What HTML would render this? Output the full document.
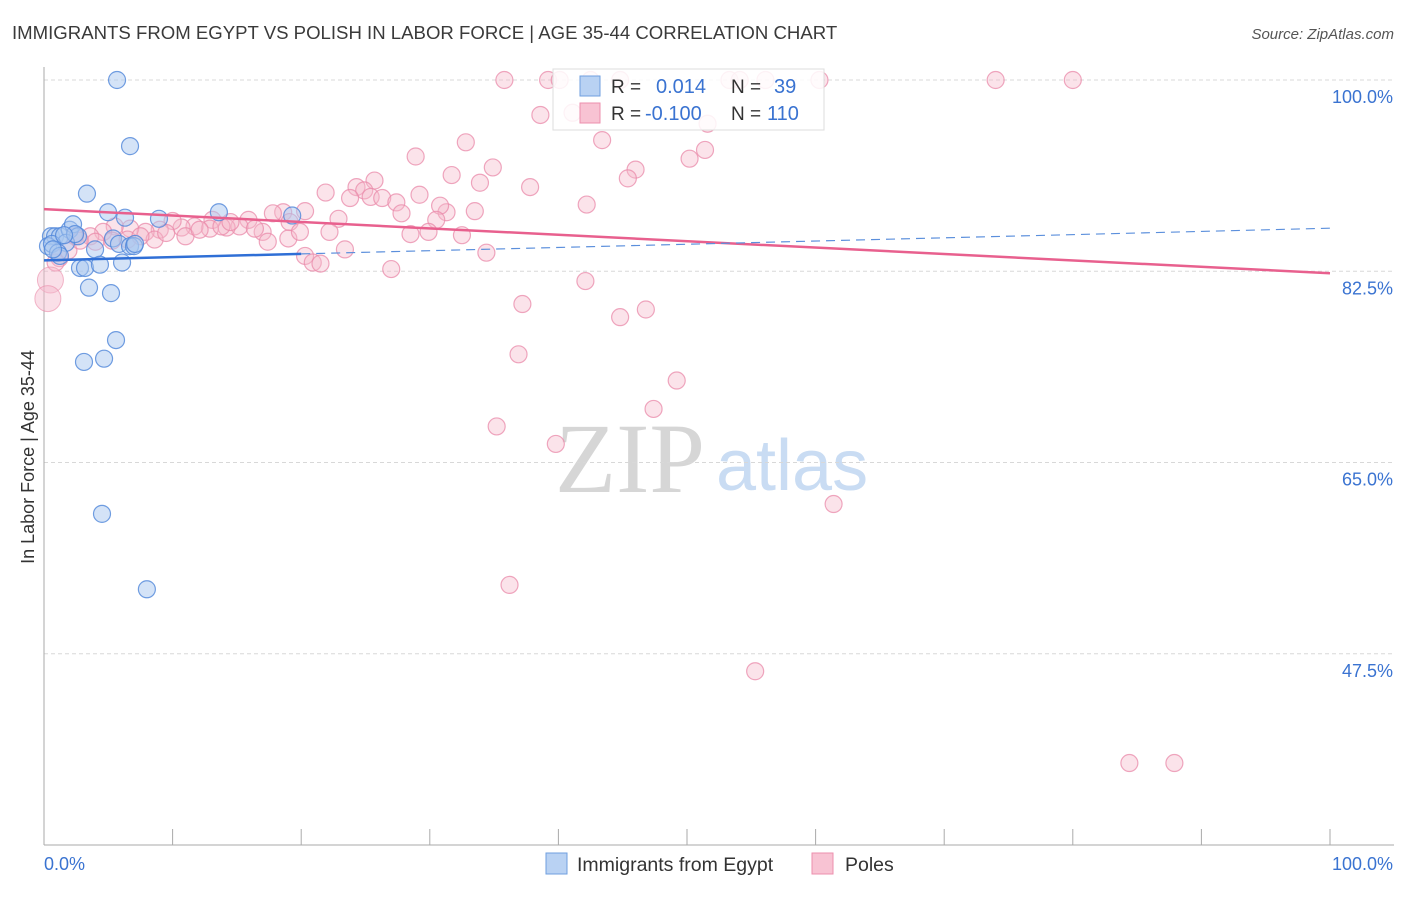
<!DOCTYPE html>
<html><head><meta charset="utf-8"><style>
body{margin:0;background:#fff;width:1406px;height:892px;overflow:hidden;font-family:"Liberation Sans",sans-serif}
svg text{font-family:"Liberation Sans",sans-serif}
</style></head><body>
<svg id="chart" width="1406" height="892" xmlns="http://www.w3.org/2000/svg">
<text x="12" y="39" font-size="18.6" fill="#3a3a3a">IMMIGRANTS FROM EGYPT VS POLISH IN LABOR FORCE | AGE 35-44 CORRELATION CHART</text>
<text x="1394" y="39" font-size="15" fill="#555" font-style="italic" text-anchor="end">Source: ZipAtlas.com</text>
<text transform="translate(34,457) rotate(-90)" font-size="18" fill="#333" text-anchor="middle">In Labor Force | Age 35-44</text>
<g>
<text x="555" y="492" font-size="100" fill="#d6d6d6" style="font-family:'Liberation Serif',serif">ZIP</text>
<text x="716" y="490" font-size="72" fill="#c9dcf3">atlas</text>
</g>
<g id="grid"></g>
<g id="axes"></g>
<g id="pinkPts"></g>
<g id="bluePts"></g>
<g id="lines"></g>
<g>
<rect x="553" y="69" width="271" height="61" fill="#fff" fill-opacity="0.85" stroke="#ddd"/>
<rect x="580" y="76" width="20" height="20" fill="#b9d2f3" stroke="#6f9fdf"/>
<text x="611" y="93" font-size="19" fill="#333">R =</text>
<text x="656" y="93" font-size="20" fill="#3a73d1">0.014</text>
<text x="731" y="93" font-size="19" fill="#333">N =</text>
<text x="774" y="93" font-size="20" fill="#3a73d1">39</text>
<rect x="580" y="103" width="20" height="20" fill="#f8c3d3" stroke="#ec8fae"/>
<text x="611" y="120" font-size="19" fill="#333">R =</text>
<text x="645" y="120" font-size="20" fill="#3a73d1">-0.100</text>
<text x="731" y="120" font-size="19" fill="#333">N =</text>
<text x="767" y="120" font-size="20" fill="#3a73d1">110</text>
</g>
<g>
<rect x="546" y="853" width="21" height="21" fill="#b9d2f3" stroke="#6f9fdf"/>
<text x="577" y="871" font-size="19.5" fill="#333">Immigrants from Egypt</text>
<rect x="812" y="853" width="21" height="21" fill="#f8c3d3" stroke="#ec8fae"/>
<text x="845" y="871" font-size="19.5" fill="#333">Poles</text>
</g>
</svg>
<script>
const yTicks=[100,82.5,65,47.5];
const xTickLabels=["0.0%","100.0%"];
const blueX=[5.68,6.69,3.34,4.98,6.3,8.94,13.6,19.3,0.54,0.86,1.24,2.0,2.26,2.64,1.71,0.31,0.62,1.09,3.97,5.37,5.83,6.69,7.0,2.8,3.19,4.35,6.07,3.5,5.21,5.6,4.67,3.11,4.51,8.0,1.24,2.41,1.56,0.7,7.08];
const blueY=[100,93.95,89.6,87.9,87.4,87.3,87.9,87.6,85.7,85.7,85.7,86.3,86.8,85.7,85.1,84.8,85.0,84.2,84.5,85.5,85.0,84.8,84.8,82.8,82.8,83.1,83.3,81.0,80.5,76.2,74.5,74.2,60.3,53.4,83.9,85.9,85.8,84.5,85.0];
const pinkX=[35.8,39.2,40.1,42.5,44.8,53.3,54.1,56.1,60.3,74.0,80.0,38.6,41.1,51.6,32.8,43.4,28.9,51.4,34.9,46.0,50.2,45.4,31.7,33.9,37.8,25.7,21.9,24.3,24.9,23.8,25.4,26.3,29.2,27.4,42.2,33.5,31.3,27.8,30.8,30.5,22.9,20.3,18.6,17.8,19.1,15.9,15.2,14.2,13.1,12.9,11.7,10.7,10.0,9.0,7.9,6.7,5.5,4.6,3.6,2.4,5.3,6.5,8.6,11.0,13.8,17.0,17.4,19.0,19.9,22.2,28.5,29.9,32.5,23.4,20.3,20.9,21.5,27.0,34.4,42.1,37.2,44.8,46.8,36.9,49.2,47.4,35.2,39.8,61.4,36.2,55.3,84.4,87.9,1.2,1.9,0.9,2.8,4.0,7.5,9.5,12.1,14.5,16.4];
const pinkY=[100,100,100,100,100,100,100,100,100,100,100,96.8,97.0,96.0,94.3,94.5,93.0,93.6,92.0,91.8,92.8,91.0,91.3,90.6,90.2,90.8,89.7,90.2,89.9,89.2,89.3,89.2,89.5,88.8,88.6,88.0,87.9,87.8,88.5,87.2,87.3,88.0,87.9,87.8,87.0,87.2,86.6,86.5,87.2,86.4,86.6,86.5,87.1,86.3,86.1,86.4,86.6,86.1,85.7,85.7,85.3,85.4,85.4,85.7,86.6,86.1,85.2,85.5,86.1,86.1,85.9,86.1,85.8,84.5,83.9,83.3,83.2,82.7,84.2,81.6,79.5,78.3,79.0,74.9,72.5,69.9,68.3,66.7,61.2,53.8,45.9,37.5,37.5,83.7,84.4,83.3,85.3,85.2,85.7,86.0,86.3,87.0,86.4];
const pinkBigX=[0.5,0.3];
const pinkBigY=[81.7,80.0];
const blueTrend=[83.5,86.44];
const pinkTrend=[88.18,82.32];
const NS='http://www.w3.org/2000/svg';
const X0=44,X1=1330,Y0=80,YB=845;
function sx(v){return X0+(X1-X0)*v/100;}
function sy(v){return Y0+(100-v)*(YB-Y0)/70;}
function mk(t,a,p){const e=document.createElementNS(NS,t);for(const k in a)e.setAttribute(k,a[k]);p.appendChild(e);return e;}
const grid=document.getElementById('grid');
yTicks.forEach(v=>{
 const l=mk('line',{x1:X0,x2:1394,y1:sy(v),y2:sy(v),stroke:'#d8d8d8','stroke-dasharray':'4,3'},grid);
 
 
 const t=mk('text',{x:1393,y:sy(v)+23,'font-size':18,fill:'#3a73d1','text-anchor':'end'},grid);
 t.textContent=v.toFixed(1)+'%';
 
 
});
const axes=document.getElementById('axes');
mk('line',{x1:X0,x2:X0,y1:67,y2:YB,stroke:'#aaa'},axes);
mk('line',{x1:X0,x2:1394,y1:YB,y2:YB,stroke:'#aaa'},axes);
for(let i=0;i<=10;i++){const tk=mk('line',{x1:sx(i*10),x2:sx(i*10),y1:829,y2:YB,stroke:'#aaa'},axes);
 
 }
const xl0=mk('text',{x:44,y:870,'font-size':18,fill:'#3a73d1'},axes);xl0.textContent=xTickLabels[0];


const xl1=mk('text',{x:1393,y:870,'font-size':18,fill:'#3a73d1','text-anchor':'end'},axes);xl1.textContent=xTickLabels[1];


const pg=document.getElementById('pinkPts');
pinkX.forEach((x,i)=>{const c=mk('circle',{cx:sx(x),cy:sy(pinkY[i]),r:8.5,fill:'#f5b8cb','fill-opacity':0.4,stroke:'#ea8aa9','stroke-opacity':0.75,'stroke-width':1.2},pg);
 
 });
pinkBigX.forEach((x,i)=>{const c=mk('circle',{cx:sx(x),cy:sy(pinkBigY[i]),r:13,fill:'#f5b8cb','fill-opacity':0.45,stroke:'#ea8aa9','stroke-opacity':0.6},pg);
 
 });
const bg=document.getElementById('bluePts');
blueX.forEach((x,i)=>{const c=mk('circle',{cx:sx(x),cy:sy(blueY[i]),r:8.5,fill:'#a9c8f0','fill-opacity':0.5,stroke:'#4f86d9','stroke-opacity':0.8,'stroke-width':1.2},bg);
 
 });
const lg=document.getElementById('lines');
function ty(t,x){return t[0]+(t[1]-t[0])*x/100;}
const pl=mk('line',{x1:sx(0),y1:sy(ty(pinkTrend,0)),x2:sx(100),y2:sy(ty(pinkTrend,100)),stroke:'#e8608e','stroke-width':2.5},lg);


const bs=mk('line',{x1:sx(0),y1:sy(ty(blueTrend,0)),x2:sx(20),y2:sy(ty(blueTrend,20)),stroke:'#2f6fd6','stroke-width':2.5},lg);


const bd=mk('line',{x1:sx(20),y1:sy(ty(blueTrend,20)),x2:sx(100),y2:sy(ty(blueTrend,100)),stroke:'#5b8fdc','stroke-width':1.2,'stroke-dasharray':'9,6'},lg);


</script>
</body></html>
